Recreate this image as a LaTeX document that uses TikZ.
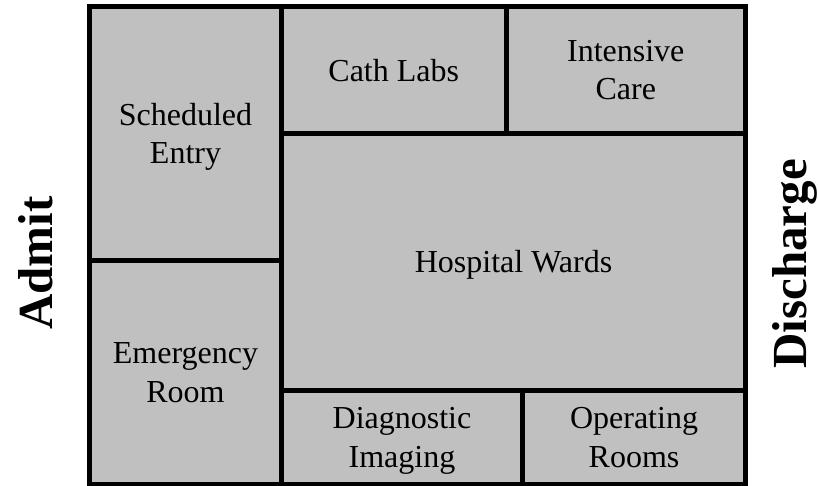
\documentclass[tikz,border=0pt]{standalone}
\usepackage{fontspec}
\setmainfont{Liberation Serif}
\usepackage{xcolor}
\usepackage{tikz}
\definecolor{cellgray}{RGB}{192,192,192}

\begin{document}
\begin{tikzpicture}[x=1pt,y=-1pt]
    \tikzstyle{cell}=[fill=cellgray,draw=black,line width=5pt,inner sep=0pt,align=center,text depth=0pt,font=\fontsize{32}{38.5}\selectfont]
    \tikzstyle{side}=[rotate=90,anchor=base,font=\fontsize{49}{58}\selectfont\bfseries]
    \useasboundingbox (0,0) rectangle (818,486);

    % left column
    \node[cell,minimum width=192pt,minimum height=254pt] (schedentry) at (185.5,133.5) {Scheduled\\Entry};
    \node[cell,minimum width=192pt,minimum height=224pt] (emergroom) at (185.5,372.5) {Emergency\\Room};

    % top row
    \node[cell,minimum width=224.5pt,minimum height=127pt] (cathlabs) at (393.75,70) {Cath Labs};
    \node[cell,minimum width=239.5pt,minimum height=127pt] (intcare) at (625.75,70) {Intensive\\Care};

    % middle
    \node[cell,minimum width=464pt,minimum height=256.5pt] (wards) at (513.5,261.75) {Hospital Wards};

    % bottom row
    \node[cell,minimum width=241pt,minimum height=94.5pt] (diagimg) at (402,437.25) {Diagnostic\\Imaging};
    \node[cell,minimum width=223pt,minimum height=94.5pt] (oprooms) at (634,437.25) {Operating\\Rooms};

    % flow labels
    \node[side] (admit) at (52,263) {Admit};
    \node[side] (discharge) at (806,264) {Discharge};

\end{tikzpicture}
\end{document}
